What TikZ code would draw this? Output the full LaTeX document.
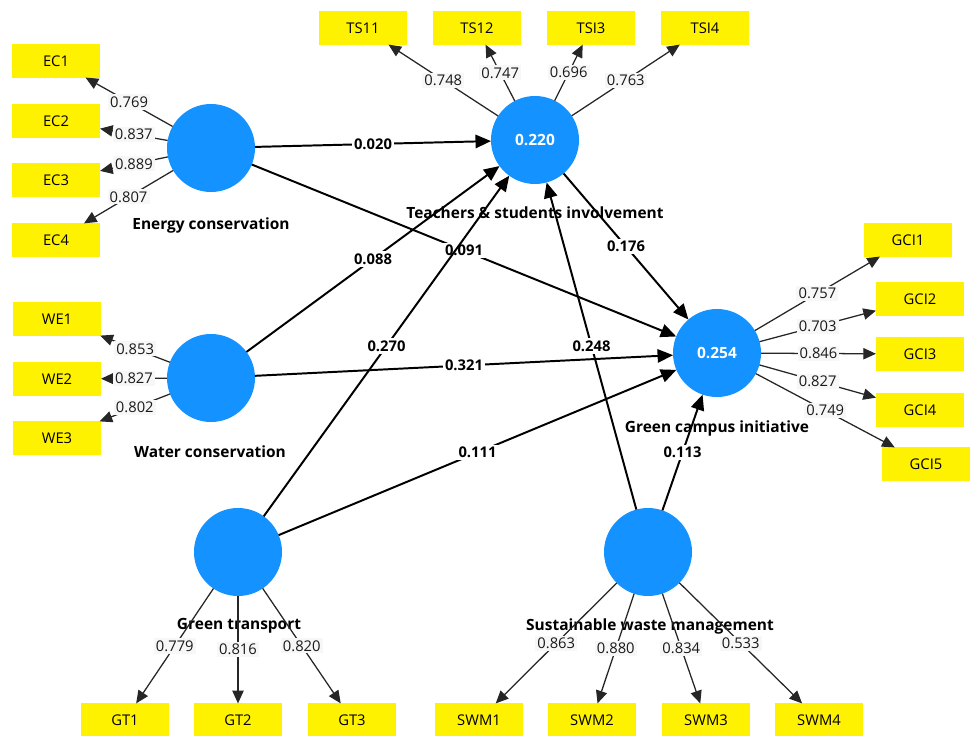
\documentclass[tikz,border=0pt]{standalone}
\usepackage{fontspec}
\setmainfont{Open Sans}
\usetikzlibrary{arrows.meta}
\definecolor{lvblue}{RGB}{20,146,255}
\definecolor{lblgray}{RGB}{247,247,247}

\begin{document}
\begin{tikzpicture}[x=0.025cm, y=-0.025cm,
		lv/.style={circle, fill=lvblue, minimum size=2.2cm, inner sep=0pt, outer sep=0pt, text=white, font=\fontsize{11}{13}\selectfont\bfseries},
		ind/.style={rectangle, fill=yellow, minimum width=2.2cm, minimum height=0.83cm, inner sep=0pt, outer sep=0pt, font=\fontsize{10.5}{12}\selectfont},
		lvname/.style={font=\fontsize{11}{13}\selectfont\bfseries},
		ld/.style={draw=black!85, line width=0.9pt, -{Triangle[length=9pt,width=8pt]}},
		pth/.style={draw=black, line width=1.4pt, -{Triangle[length=11pt,width=9.5pt]}},
		ldlbl/.style={fill=lblgray, inner sep=1.5pt, font=\fontsize{10.5}{12}\selectfont, text=black!90},
		pthlbl/.style={fill=white, inner sep=1.5pt, font=\fontsize{10.5}{12}\selectfont\bfseries}]
			\useasboundingbox (0,0) rectangle (976,736);
			
			% latent variables
			\node[lv] (ec) at (211,148) {};
			\node[lv] (ts) at (535,140) {0.220};
			\node[lv] (we) at (211,378) {};
			\node[lv] (gci) at (717,353) {0.254};
			\node[lv] (gt) at (238,552) {};
			\node[lv] (swm) at (648,552) {};
			
			\node[lvname] (ecname) at (211,225) {Energy conservation};
			\node[lvname] (tsname) at (535,213) {Teachers \& students involvement};
			\node[lvname] (gciname) at (717,428) {Green campus initiative};
			\node[lvname] (wename) at (210,452) {Water conservation};
			\node[lvname] (gtname) at (239,626) {Green transport};
			\node[lvname] (swmname) at (650,626) {Sustainable waste management};
			
			% indicators
			\node[ind] (ec1) at (56,61) {EC1};
			\node[ind] (ec2) at (56,121) {EC2};
			\node[ind] (ec3) at (56,180) {EC3};
			\node[ind] (ec4) at (56,240) {EC4};
			\node[ind] (we1) at (57,319) {WE1};
			\node[ind] (we2) at (57,379) {WE2};
			\node[ind] (we3) at (57,438) {WE3};
			\node[ind] (ts11) at (363,28) {TS11};
			\node[ind] (ts12) at (477,28) {TS12};
			\node[ind] (tsi3) at (591,28) {TSI3};
			\node[ind] (tsi4) at (705,28) {TSI4};
			\node[ind] (gci1) at (908,240) {GCI1};
			\node[ind] (gci2) at (920,299) {GCI2};
			\node[ind] (gci3) at (920,354) {GCI3};
			\node[ind] (gci4) at (920,410) {GCI4};
			\node[ind] (gci5) at (926,464) {GCI5};
			\node[ind] (gt1) at (125,720) {GT1};
			\node[ind] (gt2) at (238,720) {GT2};
			\node[ind] (gt3) at (352,720) {GT3};
			\node[ind] (swm1) at (479,720) {SWM1};
			\node[ind] (swm2) at (592,720) {SWM2};
			\node[ind] (swm3) at (706,720) {SWM3};
			\node[ind] (swm4) at (819,720) {SWM4};
			
			% loadings
			\draw[ld] (ec) -- node[ldlbl] {0.769} (ec1);
			\draw[ld] (ec) -- node[ldlbl] {0.837} (ec2);
			\draw[ld] (ec) -- node[ldlbl] {0.889} (ec3);
			\draw[ld] (ec) -- node[ldlbl] {0.807} (ec4);
			\draw[ld] (we) -- node[ldlbl] {0.853} (we1);
			\draw[ld] (we) -- node[ldlbl] {0.827} (we2);
			\draw[ld] (we) -- node[ldlbl] {0.802} (we3);
			\draw[ld] (ts) -- node[ldlbl] {0.748} (ts11);
			\draw[ld] (ts) -- node[ldlbl] {0.747} (ts12);
			\draw[ld] (ts) -- node[ldlbl] {0.696} (tsi3);
			\draw[ld] (ts) -- node[ldlbl] {0.763} (tsi4);
			\draw[ld] (gci) -- node[ldlbl] {0.757} (gci1);
			\draw[ld] (gci) -- node[ldlbl] {0.703} (gci2);
			\draw[ld] (gci) -- node[ldlbl] {0.846} (gci3);
			\draw[ld] (gci) -- node[ldlbl] {0.827} (gci4);
			\draw[ld] (gci) -- node[ldlbl] {0.749} (gci5);
			\draw[ld] (gt) -- node[ldlbl] {0.779} (gt1);
			\draw[ld] (gt) -- node[ldlbl] {0.816} (gt2);
			\draw[ld] (gt) -- node[ldlbl] {0.820} (gt3);
			\draw[ld] (swm) -- node[ldlbl] {0.863} (swm1);
			\draw[ld] (swm) -- node[ldlbl] {0.880} (swm2);
			\draw[ld] (swm) -- node[ldlbl] {0.834} (swm3);
			\draw[ld] (swm) -- node[ldlbl] {0.533} (swm4);
			
			% paths
			\draw[pth] (ec) -- node[pthlbl] {0.020} (ts);
			\draw[pth] (ec) -- node[pthlbl] {0.091} (gci);
			\draw[pth] (we) -- node[pthlbl] {0.088} (ts);
			\draw[pth] (we) -- node[pthlbl] {0.321} (gci);
			\draw[pth] (gt) -- node[pthlbl] {0.270} (ts);
			\draw[pth] (gt) -- node[pthlbl] {0.111} (gci);
			\draw[pth] (swm) -- node[pthlbl] {0.248} (ts);
			\draw[pth] (swm) -- node[pthlbl] {0.113} (gci);
			\draw[pth] (ts) -- node[pthlbl] {0.176} (gci);
			
	\end{tikzpicture}
\end{document}
